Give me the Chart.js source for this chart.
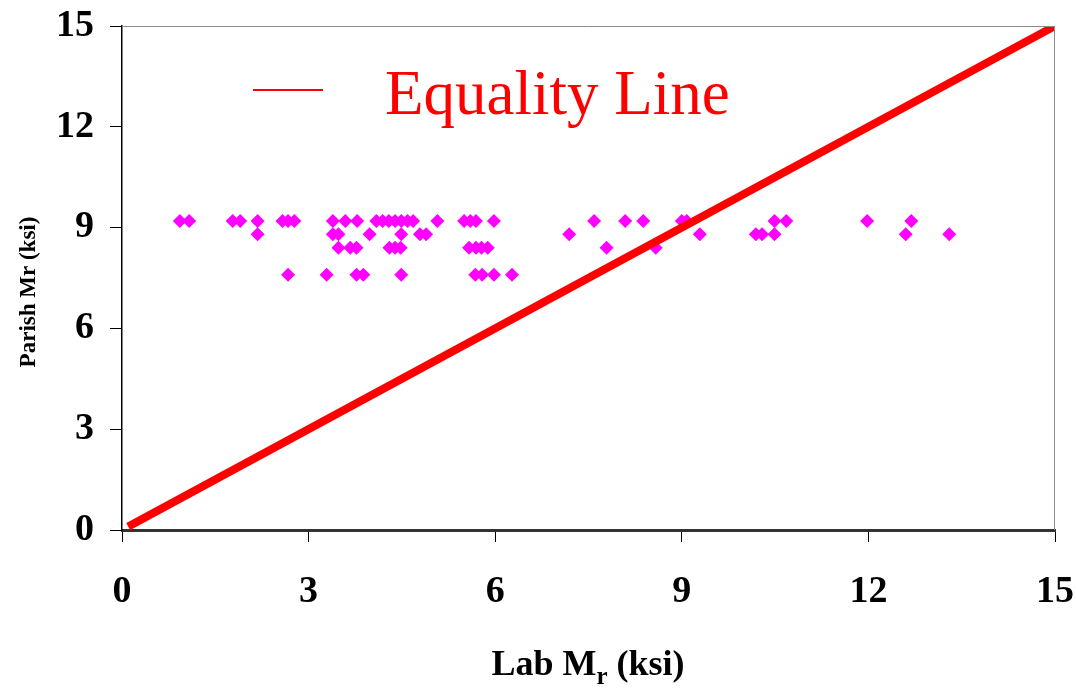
<!DOCTYPE html>
<html>
<head>
<meta charset="utf-8">
<script src="https://cdn.jsdelivr.net/npm/chart.js@4.4.1/dist/chart.umd.min.js"></script>
<style>
  html, body { margin: 0; padding: 0; background: #fff; }
  #wrap { width: 1076px; height: 691px; }
</style>
</head>
<body>
<div id="wrap"><canvas id="chart" width="1076" height="691"></canvas></div>
<script>
// measured values (ksi)
const labMr = [
  0.93, 1.08, 1.78, 1.9, 2.18, 2.58, 2.67, 2.77, 3.39, 3.59, 3.78, 4.09, 4.19, 4.29, 4.39, 4.49,
  4.59, 4.68, 5.07, 5.5, 5.6, 5.69, 5.98, 7.59, 8.09, 8.38, 9.0, 9.08, 10.49, 10.68, 11.98, 12.69,
  2.18, 3.39, 3.48, 3.98, 4.49, 4.79, 4.89, 7.19, 9.29, 10.19, 10.29, 10.49, 12.6, 13.3,
  3.48, 3.67, 3.77, 4.3, 4.39, 4.48, 5.58, 5.69, 5.78, 5.88, 7.79, 8.58,
  2.67, 3.29, 3.77, 3.88, 4.49, 5.68, 5.79, 5.98, 6.27
];
const parishMr = [
  9.2, 9.2, 9.2, 9.2, 9.2, 9.2, 9.2, 9.2, 9.2, 9.2, 9.2, 9.2, 9.2, 9.2, 9.2, 9.2,
  9.2, 9.2, 9.2, 9.2, 9.2, 9.2, 9.2, 9.2, 9.2, 9.2, 9.2, 9.2, 9.2, 9.2, 9.2, 9.2,
  8.8, 8.8, 8.8, 8.8, 8.8, 8.8, 8.8, 8.8, 8.8, 8.8, 8.8, 8.8, 8.8, 8.8,
  8.4, 8.4, 8.4, 8.4, 8.4, 8.4, 8.4, 8.4, 8.4, 8.4, 8.4, 8.4,
  7.6, 7.6, 7.6, 7.6, 7.6, 7.6, 7.6, 7.6, 7.6
];
const equalityX = [0.1, 15];
const equalityY = [0.1, 15];
const tickValues = [0, 3, 6, 9, 12, 15];

const serif = '"Liberation Serif", "Times New Roman", serif';

const points = labMr.map((x, i) => ({ x: x, y: parishMr[i] }));
const line = equalityX.map((x, i) => ({ x: x, y: equalityY[i] }));

// legend, frame and axis titles
const decorations = {
  id: 'decorations',
  afterDraw(chart) {
    const ctx = chart.ctx;
    const a = chart.chartArea;
    ctx.save();
    // thin top / right frame
    ctx.strokeStyle = '#8c8c8c';
    ctx.lineWidth = 1;
    ctx.beginPath();
    ctx.moveTo(a.left, a.top + 0.5);
    ctx.lineTo(a.right - 0.5, a.top + 0.5);
    ctx.lineTo(a.right - 0.5, a.bottom);
    ctx.stroke();

    // legend
    ctx.strokeStyle = '#ff0000';
    ctx.lineWidth = 2;
    ctx.beginPath();
    ctx.moveTo(253, 90);
    ctx.lineTo(323, 90);
    ctx.stroke();
    ctx.fillStyle = '#ff0000';
    ctx.font = '63px ' + serif;
    ctx.textBaseline = 'alphabetic';
    ctx.textAlign = 'left';
    ctx.fillText('Equality Line', 385, 114);

    // x title with subscript
    ctx.fillStyle = '#000';
    ctx.font = 'bold 36px ' + serif;
    const p1 = 'Lab M', sub = 'r', p2 = ' (ksi)';
    const w1 = ctx.measureText(p1).width;
    const w3 = ctx.measureText(p2).width;
    ctx.font = 'bold 25px ' + serif;
    const w2 = ctx.measureText(sub).width;
    const total = w1 + w2 + w3;
    let x0 = 588 - total / 2;
    const base = 675;
    ctx.font = 'bold 36px ' + serif;
    ctx.fillText(p1, x0, base);
    ctx.font = 'bold 25px ' + serif;
    ctx.fillText(sub, x0 + w1, base + 9);
    ctx.font = 'bold 36px ' + serif;
    ctx.fillText(p2, x0 + w1 + w2, base);

    // y title
    ctx.translate(29, 292);
    ctx.rotate(-Math.PI / 2);
    ctx.textAlign = 'center';
    ctx.textBaseline = 'middle';
    ctx.font = 'bold 23px ' + serif;
    ctx.fillText('Parish Mr (ksi)', 0, 0);
    ctx.restore();
  }
};

new Chart(document.getElementById('chart'), {
  type: 'scatter',
  data: {
    datasets: [
      {
        label: 'Equality Line',
        type: 'line',
        data: line,
        borderColor: '#ff0000',
        borderWidth: 8,
        pointRadius: 0,
        fill: false,
        order: 0
      },
      {
        label: 'Data',
        data: points,
        backgroundColor: '#ff00ff',
        borderWidth: 0,
        pointStyle: 'rectRot',
        pointRadius: 7,
        order: 1
      }
    ]
  },
  options: {
    responsive: false,
    animation: false,
    layout: { padding: { top: 26, right: 21, left: 0, bottom: 0 } },
    plugins: {
      legend: { display: false },
      tooltip: { enabled: false }
    },
    scales: {
      x: {
        type: 'linear',
        min: 0,
        max: 15,
        afterBuildTicks(axis) { axis.ticks = tickValues.map(v => ({ value: v })); },
        afterFit(axis) {
          axis.height = 161;
          axis.paddingLeft = 0;
          axis.paddingRight = 0;
        },
        grid: { drawOnChartArea: false, tickLength: 12, color: '#000', lineWidth: 1 },
        border: { color: '#333', width: 3 },
        ticks: {
          color: '#000',
          padding: 27,
          maxRotation: 0,
          font: { family: serif, size: 38, weight: 'bold' }
        }
      },
      y: {
        type: 'linear',
        min: 0,
        max: 15,
        afterBuildTicks(axis) { axis.ticks = tickValues.map(v => ({ value: v })); },
        afterFit(axis) {
          axis.width = 122;
          axis.paddingTop = 0;
          axis.paddingBottom = 0;
        },
        grid: { drawOnChartArea: false, tickLength: 12, color: '#000', lineWidth: 1 },
        border: { color: '#000', width: 1.5 },
        ticks: {
          color: '#000',
          padding: 16,
          font: { family: serif, size: 38, weight: 'bold' }
        }
      }
    }
  },
  plugins: [decorations]
});
</script>
</body>
</html>
